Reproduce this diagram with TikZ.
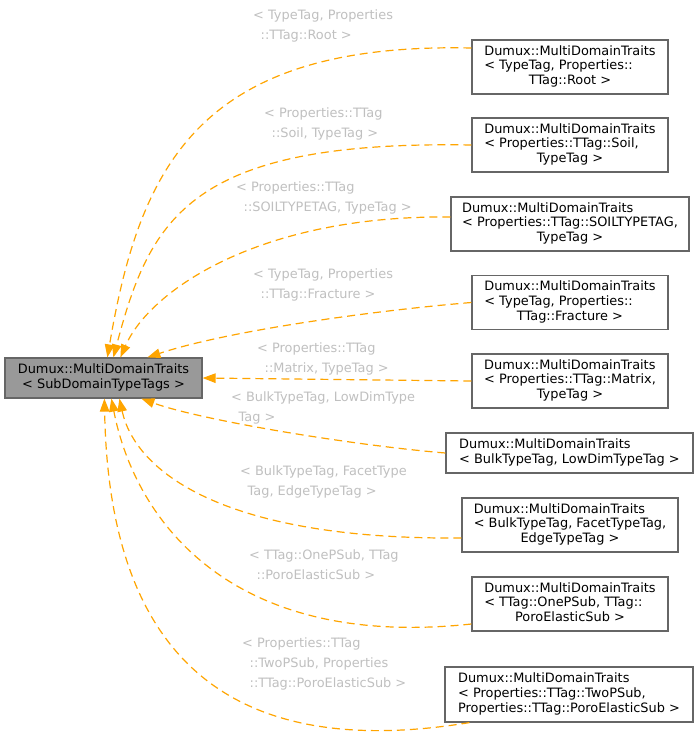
\documentclass[tikz,border=0pt]{standalone}
\usepackage{fontspec}
\setmainfont{DejaVu Sans}
\usetikzlibrary{arrows.meta}
\definecolor{edgeor}{HTML}{FFA500}
\definecolor{lblgray}{HTML}{C0C0C0}
\definecolor{bordgray}{HTML}{666666}
\definecolor{basefill}{HTML}{999999}
\newcommand{\dmx}[2]{\begin{tabular}{@{}l@{}}#1\\\multicolumn{1}{@{}c@{}}{#2}\end{tabular}}
\newcommand{\lbltab}[1]{\begin{tabular}[t]{@{}l@{}}#1\end{tabular}}
\newcommand{\ind}{\hspace*{7.5pt}}
\begin{document}
\begin{tikzpicture}[x=1pt,y=-1pt,
  cls/.style={draw=bordgray, line width=1.2pt, fill=white, inner sep=0pt,
    font=\fontsize{12.9}{14.7}\selectfont, minimum height=54pt},
  basecls/.style={cls, fill=basefill},
  elabel/.style={inner sep=0pt, text=lblgray, anchor=base west,
    font=\fontsize{12.9}{20}\selectfont},
  inh/.style={draw=edgeor, line width=1.2pt, dash pattern=on 8pt off 5pt,
    -{Triangle[length=13pt,width=9.5pt]}}]
\useasboundingbox (0,0) rectangle (700,739);
\fill[white] (0,0) rectangle (700,739);

% nodes
\node[basecls, minimum width=197pt, minimum height=40pt] (base) at (103.5,378)
  {\dmx{Dumux::MultiDomainTraits}{< SubDomainTypeTags >}};
\node[cls, minimum width=196pt] (n1) at (570,67)
  {\dmx{Dumux::MultiDomainTraits\\< TypeTag, Properties::}{TTag::Root >}};
\node[cls, minimum width=196pt] (n2) at (570,145)
  {\dmx{Dumux::MultiDomainTraits\\< Properties::TTag::Soil,}{TypeTag >}};
\node[cls, minimum width=238pt] (n3) at (570,224)
  {\dmx{Dumux::MultiDomainTraits\\< Properties::TTag::SOILTYPETAG,}{TypeTag >}};
\node[cls, minimum width=196pt] (n4) at (570,302.5)
  {\dmx{Dumux::MultiDomainTraits\\< TypeTag, Properties::}{TTag::Fracture >}};
\node[cls, minimum width=196pt] (n5) at (570,381)
  {\dmx{Dumux::MultiDomainTraits\\< Properties::TTag::Matrix,}{TypeTag >}};
\node[cls, minimum width=247pt, minimum height=40pt] (n6) at (569.5,453)
  {\dmx{Dumux::MultiDomainTraits}{< BulkTypeTag, LowDimTypeTag >}};
\node[cls, minimum width=216pt] (n7) at (570,525)
  {\dmx{Dumux::MultiDomainTraits\\< BulkTypeTag, FacetTypeTag,}{EdgeTypeTag >}};
\node[cls, minimum width=196pt] (n8) at (570,604)
  {\dmx{Dumux::MultiDomainTraits\\< TTag::OnePSub, TTag::}{PoroElasticSub >}};
\node[cls, minimum width=248pt, minimum height=55pt] (n9) at (569,694.5)
  {\dmx{Dumux::MultiDomainTraits\\< Properties::TTag::TwoPSub,}{Properties::TTag::PoroElasticSub >}};

% edges
\draw[inh] ([yshift=19pt]n1.west) .. controls (200,42) and (140,165) .. ([xshift=103pt]base.north west);
\draw[inh] (n2.west) .. controls (190,140) and (150,218) .. ([xshift=109pt]base.north west);
\draw[inh] ([yshift=7pt]n3.west) .. controls (260,215) and (150,290) .. ([xshift=116pt]base.north west);
\draw[inh] (n4.west) .. controls (380,310) and (230,330) .. ([xshift=143pt]base.north west);
\draw[inh] (n5.west) -- (base.east);
\draw[inh] (n6.west) .. controls (350,445) and (200,420) .. ([xshift=137pt]base.south west);
\draw[inh] ([yshift=-13pt]n7.west) .. controls (220,540) and (135,470) .. ([xshift=115pt]base.south west);
\draw[inh] ([yshift=-20pt]n8.west) .. controls (230,650) and (135,520) .. ([xshift=107pt]base.south west);
\draw[inh] ([xshift=25pt]n9.south west) .. controls (180,770) and (108,600) .. ([xshift=100pt]base.south west);

% edge labels
\node[elabel] (l1) at (253,19.5) {\lbltab{< TypeTag, Properties\\\ind ::TTag::Root >}};
\node[elabel] (l2) at (264,117.5) {\lbltab{< Properties::TTag\\\ind ::Soil, TypeTag >}};
\node[elabel] (l3) at (236,191.5) {\lbltab{< Properties::TTag\\\ind ::SOILTYPETAG, TypeTag >}};
\node[elabel] (l4) at (253,278.5) {\lbltab{< TypeTag, Properties\\\ind ::TTag::Fracture >}};
\node[elabel] (l5) at (257,352.5) {\lbltab{< Properties::TTag\\\ind ::Matrix, TypeTag >}};
\node[elabel] (l6) at (231,401.5) {\lbltab{< BulkTypeTag, LowDimType\\\ind Tag >}};
\node[elabel] (l7) at (240,475.5) {\lbltab{< BulkTypeTag, FacetType\\\ind Tag, EdgeTypeTag >}};
\node[elabel] (l8) at (249,559.5) {\lbltab{< TTag::OnePSub, TTag\\\ind ::PoroElasticSub >}};
\node[elabel] (l9) at (242,647.5) {\lbltab{< Properties::TTag\\\ind ::TwoPSub, Properties\\\ind ::TTag::PoroElasticSub >}};
\end{tikzpicture}
\end{document}
